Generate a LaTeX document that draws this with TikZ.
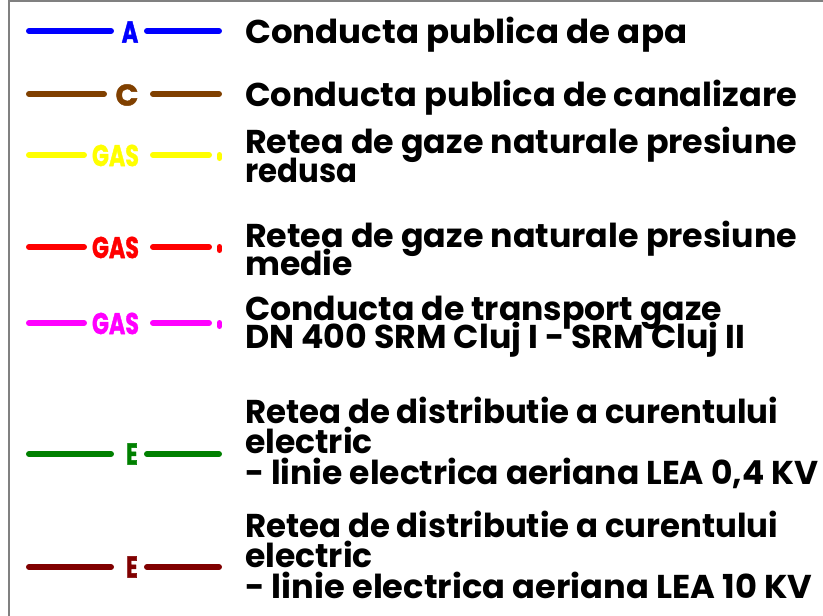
\documentclass[tikz,border=0pt]{standalone}
\usepackage{xcolor}
\usepackage{graphicx}
\usepackage{fontspec}
\setmainfont{Poppins}
\newfontfamily\symbfont{Poppins}[BoldFeatures={FakeBold=1.5}]
\usepackage{tikz}
\usetikzlibrary{positioning}

\definecolor{apacol}{RGB}{0,0,255}
\definecolor{canalcol}{RGB}{128,64,0}
\definecolor{gazredcol}{RGB}{255,255,0}
\definecolor{gazmedcol}{RGB}{255,0,0}
\definecolor{gaztrcol}{RGB}{255,0,255}
\definecolor{leacol}{RGB}{0,128,0}
\definecolor{lea10col}{RGB}{128,0,0}

% Textzeile auf feste Breite bringen
\newcommand{\legw}[2]{\resizebox{#1pt}{\height}{#2}}

\tikzset{
  leitung/.style={line width=6pt, line cap=round},
  punkt/.style={line width=5pt, line cap=round},
  symb/.style={font=\fontsize{30}{30}\symbfont\bfseries, inner sep=0pt},
  legtext/.style={font=\fontsize{33}{29}\selectfont\bfseries, anchor=base west, inner sep=0pt}
}

\begin{document}
\begin{tikzpicture}[x=1pt, y=-1pt]

    % Rahmen
    \useasboundingbox (0,0) rectangle (823,616);
    \draw[gray, line width=1.5pt] (9,616) -- (9,1) -- (823,1);

    % Conducta apa
    \coordinate (apaL1) at (29,31);  \coordinate (apaL2) at (111,31);
    \coordinate (apaR1) at (147,31); \coordinate (apaR2) at (219,31);
    \node (symApa) at (130,32) [symb, apacol] {\scalebox{0.75}[1]{A}};
    \draw[leitung, apacol] (apaL1) -- (apaL2);
    \draw[leitung, apacol] (apaR1) -- (apaR2);
    \node (txtApa) at (245,43) [legtext] {\legw{442}{Conducta publica de apa}};

    % Canalizare
    \coordinate (canL1) at (29,94);  \coordinate (canL2) at (104,94);
    \coordinate (canR1) at (153,94); \coordinate (canR2) at (219,94);
    \node (symCan) at (127,95) [symb, canalcol] {C};
    \draw[leitung, canalcol] (canL1) -- (canL2);
    \draw[leitung, canalcol] (canR1) -- (canR2);
    \node (txtCan) at (245,106) [legtext] {\legw{552}{Conducta publica de canalizare}};

    % Gaze presiune redusa
    \coordinate (grL1) at (29,155);  \coordinate (grL2) at (84,155);
    \coordinate (grR1) at (153,155); \coordinate (grR2) at (209,155);
    \coordinate (grP1) at (219.5,154.5); \coordinate (grP2) at (219.5,158.5);
    \node (symGr) at (115.5,155.5) [symb, gazredcol] {\scalebox{0.74}[1]{GAS}};
    \draw[leitung, gazredcol] (grL1) -- (grL2);
    \draw[leitung, gazredcol] (grR1) -- (grR2);
    \draw[punkt, gazredcol] (grP1) -- (grP2);
    \node (txtGr1) at (245,153) [legtext] {\legw{552}{Retea de gaze naturale presiune}};
    \node (txtGr2) at (245,182) [legtext] {\legw{112}{redusa}};

    % Gaze presiune medie
    \coordinate (gmL1) at (29,247);  \coordinate (gmL2) at (84,247);
    \coordinate (gmR1) at (153,247); \coordinate (gmR2) at (209,247);
    \coordinate (gmP1) at (219.5,246.5); \coordinate (gmP2) at (219.5,250.5);
    \node (symGm) at (115.5,247.5) [symb, gazmedcol] {\scalebox{0.74}[1]{GAS}};
    \draw[leitung, gazmedcol] (gmL1) -- (gmL2);
    \draw[leitung, gazmedcol] (gmR1) -- (gmR2);
    \draw[punkt, gazmedcol] (gmP1) -- (gmP2);
    \node (txtGm1) at (245,247) [legtext] {\legw{552}{Retea de gaze naturale presiune}};
    \node (txtGm2) at (245,275) [legtext] {medie};

    % Conducta transport gaze
    \coordinate (gtL1) at (29,323);  \coordinate (gtL2) at (84,323);
    \coordinate (gtR1) at (153,323); \coordinate (gtR2) at (209,323);
    \coordinate (gtP1) at (219.5,322.5); \coordinate (gtP2) at (219.5,326.5);
    \node (symGt) at (115.5,323.5) [symb, gaztrcol] {\scalebox{0.74}[1]{GAS}};
    \draw[leitung, gaztrcol] (gtL1) -- (gtL2);
    \draw[leitung, gaztrcol] (gtR1) -- (gtR2);
    \draw[punkt, gaztrcol] (gtP1) -- (gtP2);
    \node (txtGt1) at (245,320) [legtext] {\legw{477}{Conducta de transport gaze}};
    \node (txtGt2) at (245,348) [legtext] {\legw{500}{DN 400 SRM Cluj I - SRM Cluj II}};

    % LEA 0,4 KV
    \coordinate (e04L1) at (29,454);  \coordinate (e04L2) at (111,454);
    \coordinate (e04R1) at (147,454); \coordinate (e04R2) at (219,454);
    \node (symE04) at (132,454) [symb, leacol] {\scalebox{0.7}[1]{E}};
    \draw[leitung, leacol] (e04L1) -- (e04L2);
    \draw[leitung, leacol] (e04R1) -- (e04R2);
    \node (txtE04a) at (245,423) [legtext] {\legw{533}{Retea de distributie a curentului}};
    \node (txtE04b) at (245,453) [legtext] {electric};
    \node (txtE04c) at (245,484) [legtext] {\legw{573}{- linie electrica aeriana LEA 0,4 KV}};

    % LEA 10 KV
    \coordinate (e10L1) at (29,567);  \coordinate (e10L2) at (111,567);
    \coordinate (e10R1) at (147,567); \coordinate (e10R2) at (219,567);
    \node (symE10) at (132,567) [symb, lea10col] {\scalebox{0.7}[1]{E}};
    \draw[leitung, lea10col] (e10L1) -- (e10L2);
    \draw[leitung, lea10col] (e10R1) -- (e10R2);
    \node (txtE10a) at (245,537) [legtext] {\legw{533}{Retea de distributie a curentului}};
    \node (txtE10b) at (245,567) [legtext] {electric};
    \node (txtE10c) at (245,598) [legtext] {\legw{567}{- linie electrica aeriana LEA 10 KV}};

\end{tikzpicture}
\end{document}
